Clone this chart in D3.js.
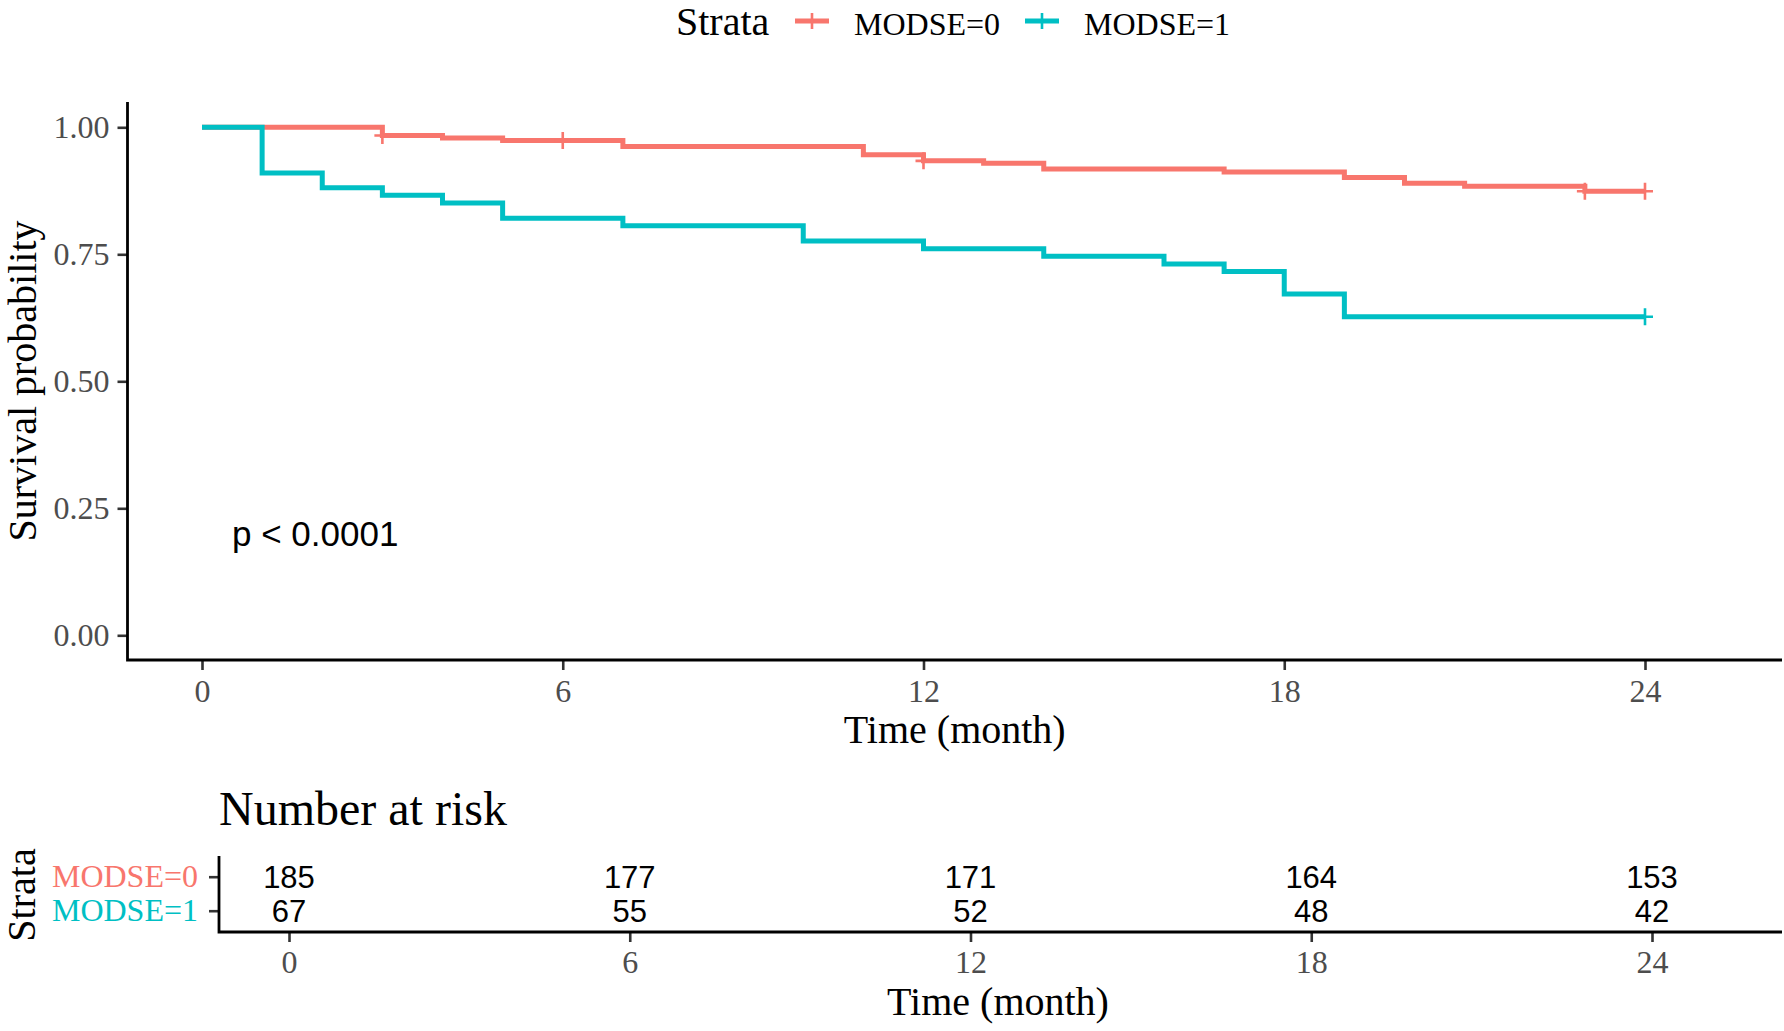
<!DOCTYPE html>
<html>
<head>
<meta charset="utf-8">
<script src="https://cdn.jsdelivr.net/npm/d3@7"></script>
<style>
  html, body { margin: 0; padding: 0; background: #fff; }
  svg { display: block; }
  .serif { font-family: "Liberation Serif", "Times New Roman", serif; }
  .sans { font-family: "Liberation Sans", Arial, sans-serif; }
</style>
</head>
<body>
<svg id="chart" width="1784" height="1031"></svg>
<script>
// strata
const strata = ["MODSE=0", "MODSE=1"];
const strataColors = ["#F8766D", "#00BFC4"];

// Kaplan-Meier steps: [month, survival]
const stepsModse0 = [
  [0, 1.000], [3, 0.984], [4, 0.979], [5, 0.974], [7, 0.962], [11, 0.946],
  [12, 0.934], [13, 0.929], [14, 0.918], [17, 0.912], [19, 0.901],
  [20, 0.890], [21, 0.884], [23, 0.874], [24, 0.874]
];
const stepsModse1 = [
  [0, 1.000], [1, 0.910], [2, 0.881], [3, 0.866], [4, 0.851], [5, 0.821],
  [7, 0.806], [10, 0.776], [12, 0.761], [14, 0.746], [16, 0.731],
  [17, 0.716], [18, 0.672], [19, 0.627], [24, 0.627]
];

// censoring marks
const censorModse0 = [[3, 0.984], [6, 0.974], [12, 0.934], [23, 0.874], [24, 0.874]];
const censorModse1 = [[24, 0.627]];

// number at risk
const riskTimes = [0, 6, 12, 18, 24];
const riskModse0 = [185, 177, 171, 164, 153];
const riskModse1 = [67, 55, 52, 48, 42];

// axis ticks
const timeTicks = [0, 6, 12, 18, 24];
const survTicks = [0, 0.25, 0.5, 0.75, 1];

const pValueText = "p < 0.0001";

const svg = d3.select("#chart");
const tickGrey = "#4d4d4d";

// ---------- main survival panel ----------
const panel = { left: 127.5, right: 1782, top: 102, bottom: 660 };
const x = d3.scaleLinear().domain([0, 24]).range([202, 1645]);
const y = d3.scaleLinear().domain([0, 1]).range([635.3, 127.3]);

const yAxis = svg.append("g")
  .attr("transform", `translate(${panel.left},0)`)
  .call(d3.axisLeft(y).tickValues(survTicks).tickFormat(d3.format(".2f")).tickSize(10).tickPadding(8));
yAxis.select(".domain").remove();
yAxis.selectAll(".tick line").attr("stroke", "#333").attr("stroke-width", 2.6);
yAxis.selectAll(".tick text")
  .attr("class", "serif").attr("font-size", 32).attr("fill", tickGrey);

const xAxis = svg.append("g")
  .attr("transform", `translate(0,${panel.bottom})`)
  .call(d3.axisBottom(x).tickValues(timeTicks).tickSize(10).tickPadding(9));
xAxis.select(".domain").remove();
xAxis.selectAll(".tick line").attr("stroke", "#333").attr("stroke-width", 2.6);
xAxis.selectAll(".tick text")
  .attr("class", "serif").attr("font-size", 32).attr("fill", tickGrey);

svg.append("path")
  .attr("d", `M${panel.left},${panel.top}V${panel.bottom}H${panel.right}`)
  .attr("fill", "none").attr("stroke", "#000").attr("stroke-width", 2.8);

const stepLine = d3.line()
  .x(d => x(d[0]))
  .y(d => y(d[1]))
  .curve(d3.curveStepAfter);

const series = [
  { steps: stepsModse0, censor: censorModse0, color: strataColors[0] },
  { steps: stepsModse1, censor: censorModse1, color: strataColors[1] }
];

// red first, teal on top where they share the start
series.forEach(s => {
  svg.append("path")
    .datum(s.steps)
    .attr("d", stepLine)
    .attr("fill", "none")
    .attr("stroke", s.color)
    .attr("stroke-width", 5);

  svg.selectAll(null)
    .data(s.censor)
    .join("path")
    .attr("transform", d => `translate(${x(d[0])},${y(d[1])})`)
    .attr("d", "M-8,0H8M0,-8.5V8.5")
    .attr("stroke", s.color)
    .attr("stroke-width", 2.6)
    .attr("fill", "none");
});

svg.append("text")
  .attr("class", "sans")
  .attr("x", 232)
  .attr("y", 546)
  .attr("font-size", 35)
  .attr("fill", "#000")
  .text(pValueText);

svg.append("text")
  .attr("class", "serif")
  .attr("x", (panel.left + panel.right) / 2)
  .attr("y", 743)
  .attr("text-anchor", "middle")
  .attr("font-size", 40)
  .text("Time (month)");

svg.append("text")
  .attr("class", "serif")
  .attr("transform", `translate(36,${(panel.top + panel.bottom) / 2}) rotate(-90)`)
  .attr("text-anchor", "middle")
  .attr("font-size", 40)
  .text("Survival probability");

// ---------- legend ----------
const legend = svg.append("g");
legend.append("text")
  .attr("class", "serif")
  .attr("x", 676).attr("y", 35)
  .attr("font-size", 40)
  .text("Strata");

const legendKeyX = [795, 1025];
strata.forEach((name, i) => {
  const kx = legendKeyX[i];
  legend.append("line")
    .attr("x1", kx).attr("x2", kx + 34).attr("y1", 21).attr("y2", 21)
    .attr("stroke", strataColors[i]).attr("stroke-width", 5);
  legend.append("line")
    .attr("x1", kx + 17).attr("x2", kx + 17).attr("y1", 13).attr("y2", 29)
    .attr("stroke", strataColors[i]).attr("stroke-width", 2.6);
  legend.append("text")
    .attr("class", "serif")
    .attr("x", kx + 59).attr("y", 35)
    .attr("font-size", 32)
    .text(name);
});

// ---------- number at risk table ----------
const risk = { left: 219, right: 1782, top: 856, bottom: 932 };
const xr = d3.scaleLinear().domain([0, 24]).range([289, 1652]);
const yr = d3.scalePoint().domain(strata).range([876.7, 910.7]);

svg.append("text")
  .attr("class", "serif")
  .attr("x", 219).attr("y", 825)
  .attr("font-size", 48)
  .text("Number at risk");

const ryAxis = svg.append("g")
  .attr("transform", `translate(${risk.left},0)`)
  .call(d3.axisLeft(yr).tickSize(10).tickPadding(11));
ryAxis.select(".domain").remove();
ryAxis.selectAll(".tick line").attr("stroke", "#333").attr("stroke-width", 2.6);
ryAxis.selectAll(".tick text")
  .attr("class", "serif").attr("font-size", 32)
  .attr("fill", (d, i) => strataColors[i]);

const rxAxis = svg.append("g")
  .attr("transform", `translate(0,${risk.bottom})`)
  .call(d3.axisBottom(xr).tickValues(timeTicks).tickSize(10).tickPadding(8));
rxAxis.select(".domain").remove();
rxAxis.selectAll(".tick line").attr("stroke", "#333").attr("stroke-width", 2.6);
rxAxis.selectAll(".tick text")
  .attr("class", "serif").attr("font-size", 32).attr("fill", tickGrey);

svg.append("path")
  .attr("d", `M${risk.left},${risk.top}V${risk.bottom}H${risk.right}`)
  .attr("fill", "none").attr("stroke", "#000").attr("stroke-width", 2.8);

[riskModse0, riskModse1].forEach((counts, i) => {
  svg.selectAll(null)
    .data(counts)
    .join("text")
    .attr("class", "sans")
    .attr("x", (d, j) => xr(riskTimes[j]))
    .attr("y", yr(strata[i]))
    .attr("dy", "0.36em")
    .attr("text-anchor", "middle")
    .attr("font-size", 31)
    .attr("fill", "#000")
    .text(d => d);
});

svg.append("text")
  .attr("class", "serif")
  .attr("x", 998)
  .attr("y", 1015)
  .attr("text-anchor", "middle")
  .attr("font-size", 40)
  .text("Time (month)");

svg.append("text")
  .attr("class", "serif")
  .attr("transform", `translate(35,${(risk.top + risk.bottom) / 2 + 1}) rotate(-90)`)
  .attr("text-anchor", "middle")
  .attr("font-size", 40)
  .text("Strata");
</script>
</body>
</html>
